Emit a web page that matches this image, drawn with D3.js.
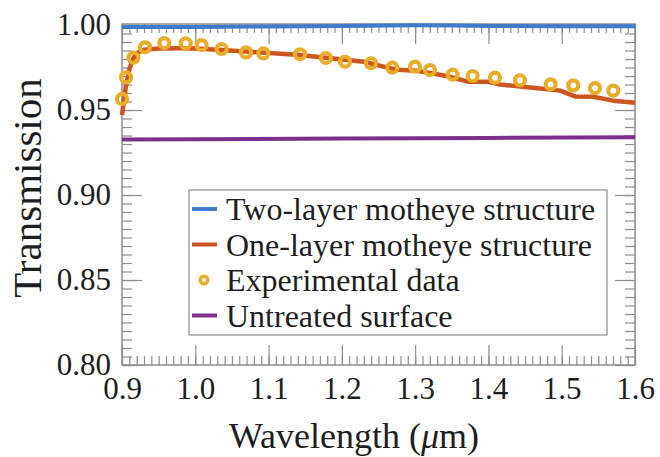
<!DOCTYPE html>
<html>
<head>
<meta charset="utf-8">
<script src="https://cdn.jsdelivr.net/npm/d3@7"></script>
<style>
  body { margin: 0; background: #fff; }
  text { font-family: "Liberation Serif", "Times New Roman", serif; fill: #1e1e1e; }
</style>
</head>
<body>
<script>
// experimental data (circles)
var expWl = [0.900, 0.9055, 0.9155, 0.9314, 0.9577, 0.9869, 1.0087, 1.036, 1.0692, 1.0928,
  1.1429, 1.1783, 1.2043, 1.2397, 1.2688, 1.2998, 1.3202, 1.3512, 1.3785, 1.4089,
  1.443, 1.4849, 1.5158, 1.5454, 1.5704];
var expT = [0.9565, 0.9692, 0.9808, 0.9869, 0.9894, 0.9892, 0.9882, 0.9859, 0.9839, 0.9833,
  0.9828, 0.9806, 0.9784, 0.9775, 0.9749, 0.9755, 0.9735, 0.9708, 0.9700, 0.9690,
  0.9675, 0.9651, 0.9645, 0.9629, 0.9614];

// one-layer simulation
var oneWl = [0.900, 0.905, 0.910, 0.915, 0.920, 0.930, 0.950, 0.980, 1.000, 1.036, 1.090,
  1.143, 1.184, 1.230, 1.257, 1.275, 1.302, 1.343, 1.372, 1.398, 1.416, 1.457,
  1.498, 1.518, 1.543, 1.570, 1.600];
var oneT = [0.947, 0.963, 0.974, 0.980, 0.9835, 0.9855, 0.9862, 0.9863, 0.9862, 0.9853, 0.9838,
  0.9824, 0.9804, 0.9784, 0.9755, 0.9737, 0.9731, 0.9700, 0.9667, 0.9667, 0.9650, 0.9633,
  0.9614, 0.9580, 0.9578, 0.9555, 0.9543];

// two-layer simulation
var twoWl = [0.9, 1.0, 1.1, 1.2, 1.3, 1.35, 1.4, 1.5, 1.6];
var twoT = [0.9988, 0.9989, 0.9991, 0.9994, 0.9999, 0.9997, 0.9994, 0.9993, 0.9993];

// untreated surface
var bareWl = [0.9, 1.0, 1.2, 1.4, 1.6];
var bareT = [0.9326, 0.9328, 0.9332, 0.9336, 0.9340];

var xTicks = [0.9, 1.0, 1.1, 1.2, 1.3, 1.4, 1.5, 1.6];
var yTicks = [0.80, 0.85, 0.90, 0.95, 1.00];
var legendNames = ["Two-layer motheye structure", "One-layer motheye structure",
  "Experimental data", "Untreated surface"];

var colors = {two: "#3f7bcb", one: "#cc5520", exp: "#e8ae2a", bare: "#7b308e"};

var W = 660, H = 457;
var pl = 122, pr = 635, pt = 24, pb = 365;

var svg = d3.select("body").append("svg")
    .attr("width", W)
    .attr("height", H);

var x = d3.scaleLinear().domain([0.9, 1.6]).range([pl, pr]);
var y = d3.scaleLinear().domain([0.8, 1.0006]).range([pb, pt]);

var xMinor = d3.range(90, 161).map(function(d) { return d / 100; });
var yMinor = d3.range(160, 201).map(function(d) { return d / 200; });

function tickStyle(g) {
  g.select(".domain").remove();
  g.selectAll(".tick line").attr("stroke", "#8c8c8c").attr("stroke-width", 1.2);
}

// minor ticks
svg.append("g").attr("transform", "translate(0," + pb + ")")
    .call(d3.axisBottom(x).tickValues(xMinor).tickSizeInner(-9).tickSizeOuter(0).tickFormat(""))
    .call(tickStyle);
svg.append("g").attr("transform", "translate(0," + pt + ")")
    .call(d3.axisTop(x).tickValues(xMinor).tickSizeInner(-9).tickSizeOuter(0).tickFormat(""))
    .call(tickStyle);
svg.append("g").attr("transform", "translate(" + pl + ",0)")
    .call(d3.axisLeft(y).tickValues(yMinor).tickSizeInner(-10).tickSizeOuter(0).tickFormat(""))
    .call(tickStyle);
svg.append("g").attr("transform", "translate(" + pr + ",0)")
    .call(d3.axisRight(y).tickValues(yMinor).tickSizeInner(-10).tickSizeOuter(0).tickFormat(""))
    .call(tickStyle);

// major ticks
var xAx = svg.append("g").attr("transform", "translate(0," + pb + ")")
    .call(d3.axisBottom(x).tickValues(xTicks).tickSizeInner(-20).tickSizeOuter(0)
      .tickPadding(12).tickFormat(d3.format(".1f")))
    .call(tickStyle);
xAx.selectAll("text").attr("font-size", 31).attr("fill", "#1e1e1e");

var yAx = svg.append("g").attr("transform", "translate(" + pl + ",0)")
    .call(d3.axisLeft(y).tickValues(yTicks).tickSizeInner(-20).tickSizeOuter(0)
      .tickPadding(11).tickFormat(d3.format(".2f")))
    .call(tickStyle);
yAx.selectAll("text").attr("font-size", 31).attr("fill", "#1e1e1e");

svg.append("g").attr("transform", "translate(0," + pt + ")")
    .call(d3.axisTop(x).tickValues(xTicks).tickSizeInner(-20).tickSizeOuter(0).tickFormat(""))
    .call(tickStyle);
svg.append("g").attr("transform", "translate(" + pr + ",0)")
    .call(d3.axisRight(y).tickValues(yTicks).tickSizeInner(-20).tickSizeOuter(0).tickFormat(""))
    .call(tickStyle);

// frame
svg.append("rect")
    .attr("x", pl).attr("y", pt)
    .attr("width", pr - pl).attr("height", pb - pt)
    .attr("fill", "none").attr("stroke", "#8c8c8c").attr("stroke-width", 1.5);

var line = d3.line()
    .x(function(d) { return x(d[0]); })
    .y(function(d) { return y(d[1]); });

function pairs(a, b) { return a.map(function(v, i) { return [v, b[i]]; }); }

svg.append("path").datum(pairs(bareWl, bareT))
    .attr("d", line).attr("fill", "none")
    .attr("stroke", colors.bare).attr("stroke-width", 4);

svg.append("path").datum(pairs(twoWl, twoT))
    .attr("d", line).attr("fill", "none")
    .attr("stroke", colors.two).attr("stroke-width", 4);

svg.append("path").datum(pairs(oneWl, oneT))
    .attr("d", line).attr("fill", "none")
    .attr("stroke", colors.one).attr("stroke-width", 4.5)
    .attr("stroke-linejoin", "round");

svg.selectAll(".exp").data(pairs(expWl, expT)).enter().append("circle")
    .attr("class", "exp")
    .attr("cx", function(d) { return x(d[0]); })
    .attr("cy", function(d) { return y(d[1]); })
    .attr("r", 5)
    .attr("fill", "none")
    .attr("stroke", colors.exp)
    .attr("stroke-width", 4.2);

// legend
var lg = svg.append("g");
lg.append("rect")
    .attr("x", 189).attr("y", 190).attr("width", 418).attr("height", 145)
    .attr("fill", "#fff").attr("stroke", "#8c8c8c").attr("stroke-width", 1.2);

var legColors = [colors.two, colors.one, colors.exp, colors.bare];
legendNames.forEach(function(name, i) {
  var cy = 209 + i * 35.5;
  if (i === 2) {
    lg.append("circle").attr("cx", 204).attr("cy", cy).attr("r", 3.8)
      .attr("fill", "none").attr("stroke", legColors[i]).attr("stroke-width", 3.4);
  } else {
    lg.append("line").attr("x1", 192).attr("x2", 217).attr("y1", cy).attr("y2", cy)
      .attr("stroke", legColors[i]).attr("stroke-width", 4);
  }
  lg.append("text").attr("x", 226).attr("y", cy + 11)
    .attr("font-size", 32).text(name);
});

// axis titles
var xt = svg.append("text")
    .attr("x", 354).attr("y", 448)
    .attr("text-anchor", "middle")
    .attr("font-size", 36);
xt.append("tspan").text("Wavelength (");
xt.append("tspan").attr("font-style", "italic").text("\u03bc");
xt.append("tspan").text("m)");

svg.append("text")
    .attr("transform", "translate(41,188) rotate(-90)")
    .attr("text-anchor", "middle")
    .attr("font-size", 41)
    .text("Transmission");
</script>
</body>
</html>
